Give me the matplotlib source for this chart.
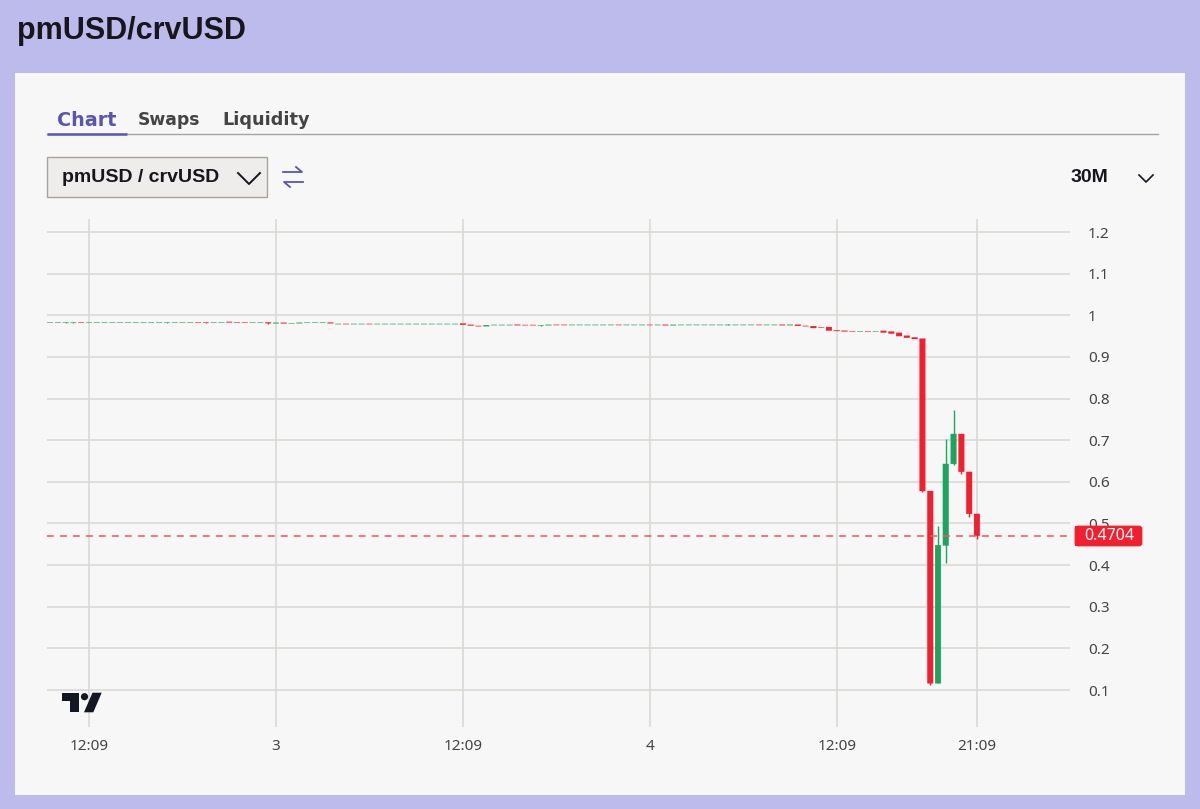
import matplotlib
matplotlib.use('Agg')
import matplotlib.pyplot as plt
from matplotlib.patches import Rectangle, Polygon, Circle, FancyBboxPatch
import numpy as np

# 30 minute candles, x = candle number counted from the first 12:09
candle_x = np.arange(-5, 115)
opens = [.9827, .9827, .9827, .9827, .9835, .9827, .9827, .9827, .9827, .9827,
         .9827, .9827, .9827, .9827, .9827, .9827, .9827, .9827, .9827, .9835,
         .9835, .9827, .9827, .9842, .9830, .9830, .9822, .9822, .9830, .9805,
         .9821, .9796, .9806, .9818, .9818, .9818, .9826, .9786, .9794, .9786,
         .9786, .9794, .9786, .9786, .9786, .9786, .9786, .9786, .9786, .9786,
         .9786, .9786, .9786, .9804, .9772, .9745, .9735, .9762, .9762, .9762,
         .9775, .9768, .9768, .9755, .9758, .9772, .9772, .9764, .9764, .9764,
         .9764, .9764, .9764, .9772, .9764, .9764, .9764, .9772, .9764, .9772,
         .9757, .9764, .9764, .9764, .9764, .9764, .9764, .9764, .9764, .9764,
         .9764, .9772, .9764, .9764, .9775, .9760, .9775, .9745, .9740, .9712,
         .9718, .9640, .9630, .9618, .9610, .9618, .9610, .9625, .9610, .9580,
         .9510, .9470, .944, .578, .116, .447, .643, .715, .624, .523]
closes = [.9835, .9835, .9835, .9835, .9827, .9835, .9835, .9835, .9835, .9835,
          .9835, .9835, .9835, .9835, .9835, .9835, .9835, .9835, .9835, .9827,
          .9827, .9835, .9835, .9826, .9822, .9822, .9830, .9830, .9810, .9821,
          .9803, .9802, .9822, .9826, .9826, .9826, .9806, .9794, .9786, .9794,
          .9794, .9786, .9794, .9794, .9794, .9794, .9794, .9794, .9794, .9794,
          .9794, .9794, .9794, .9772, .9752, .9735, .9762, .9770, .9770, .9770,
          .9760, .9760, .9760, .9763, .9772, .9764, .9764, .9772, .9772, .9772,
          .9772, .9772, .9772, .9764, .9772, .9772, .9772, .9764, .9772, .9757,
          .9772, .9772, .9772, .9772, .9772, .9772, .9772, .9772, .9772, .9772,
          .9772, .9764, .9772, .9772, .9760, .9775, .9745, .9735, .9695, .9704,
          .9632, .9622, .9610, .9610, .9618, .9610, .9618, .9585, .9560, .9500,
          .9460, .9430, .578, .116, .448, .643, .715, .624, .523, .4704]

wick_x = [-3, -2, 10, 15, 23, 58, 82, 107, 108, 109, 110, 111, 112, 113, 114]
wick_high = [.984, .984, .984, .984, .9835, .977, .978, .944, .578, .494, .702, .772, .715, .624, .523]
wick_low = [.982, .982, .982, .982, .980, .975, .976, .575, .112, .116, .405, .64, .62, .516, .463]

last_price = 0.4704
y_ticks = [0.1, 0.2, 0.3, 0.4, 0.5, 0.6, 0.7, 0.8, 0.9, 1.0, 1.1, 1.2]
y_labels = ['0.1', '0.2', '0.3', '0.4', '0.5', '0.6', '0.7', '0.8', '0.9', '1', '1.1', '1.2']
x_ticks = [0, 24, 48, 72, 96, 114]
x_labels = ['12:09', '3', '12:09', '4', '12:09', '21:09']

LILAC = '#bdbbec'
PANEL = '#f7f7f7'
INDIGO = '#5b55b0'
RED = '#f2202f'
GREEN = '#1fa45f'
GRID = '#dad7d2'
TEXT = '#444444'
LINE = '#a8a39c'
DARK = '#16161c'

W, H = 1200, 809
fig = plt.figure(figsize=(W / 100, H / 100), dpi=100, facecolor=LILAC)

# page, in pixels
bg = fig.add_axes([0, 0, 1, 1], zorder=0)
bg.set_xlim(0, W)
bg.set_ylim(H, 0)
bg.axis('off')
bg.add_patch(Rectangle((15, 73), 1170, 722, fc=PANEL, ec='none'))
bg.text(17, 31, 'pmUSD/crvUSD', fontsize=22, fontweight='bold', family='Liberation Sans', color=DARK, va='center')

bg.text(57, 120, 'Chart', fontsize=13.8, fontweight='bold', family='DejaVu Sans', color=INDIGO, va='center')
bg.text(138, 120, 'Swaps', fontsize=12.4, fontweight='bold', family='DejaVu Sans', color=TEXT, va='center')
bg.text(222, 120, 'Liquidity', fontsize=12.8, fontweight='bold', family='DejaVu Sans', color=TEXT, va='center')
bg.plot([47, 1158], [134, 134], color=LINE, lw=1)
bg.plot([47, 127], [134, 134], color=INDIGO, lw=1.8, solid_capstyle='butt')

bg.add_patch(Rectangle((47, 157), 219.5, 40, fc='#eeedeb', ec=LINE, lw=1))
bg.text(62, 177, 'pmUSD / crvUSD', fontsize=14, fontweight='bold', family='Liberation Sans', color=DARK, va='center')
bg.plot([238, 249, 260], [173, 184, 173], color=DARK, lw=1.4)
bg.plot([283, 302, 296], [172, 172, 167], color=INDIGO, lw=1.3)
bg.plot([303, 284, 290], [182, 182, 187], color=INDIGO, lw=1.3)
bg.text(1071, 177, '30M', fontsize=14, fontweight='bold', family='Liberation Sans', color=DARK, va='center')
bg.plot([1139, 1146, 1153], [175, 182, 175], color=DARK, lw=1.2)

# chart area, placed so that the grid lands on the reference pixels
left, right, top, bottom = 47, 1070, 219, 727
ax = fig.add_axes([left / W, 1 - bottom / H, (right - left) / W, (bottom - top) / H], zorder=1)
ax.patch.set_alpha(0)
px = 7.789
ax.set_xlim((left - 89) / px, (right - 89) / px)
ax.set_ylim(1.2 - (bottom - 232) / 416.4, 1.2 - (top - 232) / 416.4)
for s in ax.spines.values():
    s.set_visible(False)
ax.grid(True, color=GRID, lw=1.1)
ax.set_axisbelow(True)

ax.yaxis.tick_right()
ax.set_yticks(y_ticks, y_labels)
ax.set_xticks(x_ticks, x_labels)
ax.tick_params(axis='both', length=0, labelsize=11, labelcolor=TEXT)
ax.tick_params(axis='y', pad=13)
ax.tick_params(axis='x', pad=9)
for lab in ax.get_xticklabels() + ax.get_yticklabels():
    lab.set_family('Noto Sans')
for lab in ax.get_xticklabels():
    if lab.get_text() in ('3', '4'):
        lab.set_fontweight('bold')

colors = [GREEN if c >= o else RED for o, c in zip(opens, closes)]
wick_colors = [colors[i + 5] for i in wick_x]
ax.vlines(wick_x, wick_low, wick_high, colors=wick_colors, lw=1.0, zorder=3)
bars = ax.bar(candle_x, np.abs(np.array(closes) - np.array(opens)), bottom=np.minimum(opens, closes),
              width=5.8 / px, color=colors, edgecolor=colors, lw=0.15, zorder=4)
for b in bars:
    b.set_snap(False)  # candles flatter than a pixel stay faint

ax.axhline(last_price, color='#f7525f', lw=1.1, dashes=(4.5, 4), zorder=5)

# price tag and logo over the axis
top_ax = fig.add_axes([0, 0, 1, 1], zorder=2)
top_ax.patch.set_alpha(0)
top_ax.set_xlim(0, W)
top_ax.set_ylim(H, 0)
top_ax.axis('off')
top_ax.add_patch(FancyBboxPatch((1076, 527), 65, 18, boxstyle='round,pad=0,rounding_size=2', fc=RED, ec=RED, lw=2))
top_ax.add_patch(Rectangle((1075, 526), 10, 20, fc=RED, ec='none'))
top_ax.text(1109.5, 536, f'{last_price:.4f}', color='white', fontsize=11.5, family='Noto Sans', ha='center', va='center')

logo = dict(fc='#131722', ec='none')
top_ax.add_patch(Polygon([(62, 692.7), (79.3, 692.7), (79.3, 712.3), (70, 712.3), (70, 701), (62, 701)], **logo))
top_ax.add_patch(Circle((84.5, 696.7), 3.6, **logo))
top_ax.add_patch(Polygon([(92.5, 692.7), (101.7, 692.7), (93.3, 712.3), (84, 712.3)], **logo))

fig.savefig('out.png', dpi=100, facecolor=LILAC)
